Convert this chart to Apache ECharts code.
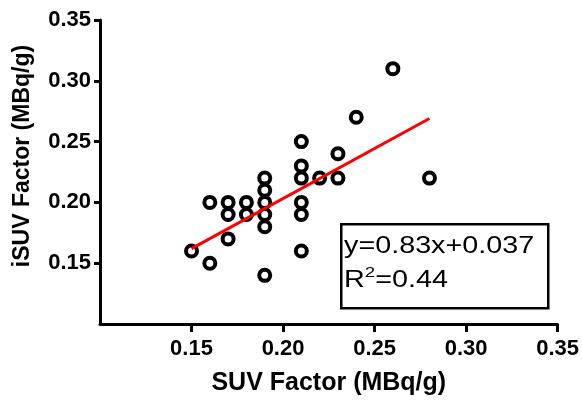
<!DOCTYPE html>
<html>
<head>
<meta charset="utf-8">
<script src="https://cdn.jsdelivr.net/npm/echarts@6/dist/echarts.min.js"></script>
<style>
  html, body { margin: 0; padding: 0; background: #fff; }
  #chart { width: 582px; height: 401px; }
</style>
</head>
<body>
<div id="chart"></div>
<script>
// SUV factor (x) vs iSUV factor (y), MBq/g
var suvFactor = [0.26, 0.24, 0.21, 0.23, 0.21, 0.21, 0.22, 0.23, 0.28, 0.19,
  0.19, 0.19, 0.19, 0.19, 0.21, 0.21, 0.16, 0.17, 0.17, 0.18,
  0.18, 0.17, 0.15, 0.16, 0.21, 0.19]
var isuvFactor = [0.31, 0.27, 0.25, 0.24, 0.23, 0.22, 0.22, 0.22, 0.22, 0.22,
  0.21, 0.20, 0.19, 0.18, 0.20, 0.19, 0.20, 0.20, 0.19, 0.20,
  0.19, 0.17, 0.16, 0.15, 0.16, 0.14]

// regression line end points
var fitX = [0.15, 0.28]
var fitY = [0.162, 0.269]

var tickValues = [0.15, 0.20, 0.25, 0.30, 0.35]
var fitText = 'y=0.83x+0.037'
var r2Text = '0.44'

var points = suvFactor.map(function (x, i) { return [x, isuvFactor[i]] })
var fitLine = fitX.map(function (x, i) { return [x, fitY[i]] })

var chart = echarts.init(document.getElementById('chart'))
var axisFont = '"Liberation Sans", Arial, sans-serif'

chart.setOption({
  animation: false,
  backgroundColor: '#fff',
  grid: { left: 100, right: 23, top: 20, bottom: 76 },
  xAxis: {
    type: 'value',
    min: 0.10,
    max: 0.35,
    interval: 0.05,
    name: 'SUV Factor (MBq/g)',
    nameLocation: 'middle',
    nameGap: 47,
    nameTextStyle: { color: '#000', fontSize: 25, fontWeight: 'bold', fontFamily: axisFont },
    splitLine: { show: false },
    axisLine: { onZero: false, lineStyle: { color: '#000', width: 3 } },
    axisTick: { length: 8, lineStyle: { color: '#000', width: 3 }, customValues: tickValues },
    axisLabel: {
      color: '#000', fontSize: 22, fontWeight: 'bold', fontFamily: axisFont, margin: 14,
      customValues: tickValues,
      formatter: function (v) { return v.toFixed(2) }
    }
  },
  yAxis: {
    type: 'value',
    min: 0.10,
    max: 0.35,
    interval: 0.05,
    name: 'iSUV Factor (MBq/g)',
    nameLocation: 'middle',
    nameGap: 66,
    nameTextStyle: {
      color: '#000', fontSize: 23, fontWeight: 'bold', fontFamily: axisFont,
      padding: [0, 0, 0, 32]
    },
    splitLine: { show: false },
    axisLine: { onZero: false, lineStyle: { color: '#000', width: 3 } },
    axisTick: { length: 6, lineStyle: { color: '#000', width: 3 }, customValues: tickValues },
    axisLabel: {
      color: '#000', fontSize: 22, fontWeight: 'bold', fontFamily: axisFont, margin: 9,
      customValues: tickValues,
      formatter: function (v) { return v.toFixed(2) }
    }
  },
  graphic: [
    {
      type: 'rect',
      left: 340,
      top: 223,
      shape: { width: 207, height: 84 },
      style: { fill: '#fff', stroke: '#000', lineWidth: 2.5 },
      z: 5
    },
    {
      type: 'text',
      x: 344,
      y: 235,
      scaleX: 1.25,
      style: { text: fitText, fill: '#000', fontSize: 23, fontFamily: axisFont },
      z: 6
    },
    {
      type: 'text',
      x: 344,
      y: 265,
      scaleX: 1.25,
      style: {
        text: '{b|R}{s|2}{b|=' + r2Text + '}',
        fill: '#000',
        rich: {
          b: { fontSize: 23, fontFamily: axisFont, fill: '#000', lineHeight: 27, verticalAlign: 'bottom' },
          s: { fontSize: 15, fontFamily: axisFont, fill: '#000', lineHeight: 15, verticalAlign: 'top' }
        }
      },
      z: 6
    }
  ],
  series: [
    {
      type: 'scatter',
      data: points,
      symbol: 'circle',
      symbolSize: 11,
      itemStyle: { color: 'rgba(0,0,0,0)', borderColor: '#000', borderWidth: 4, opacity: 1 },
      z: 2
    },
    {
      type: 'line',
      data: fitLine,
      symbol: 'none',
      lineStyle: { color: '#f00', width: 3 },
      z: 3
    }
  ]
})
</script>
</body>
</html>
